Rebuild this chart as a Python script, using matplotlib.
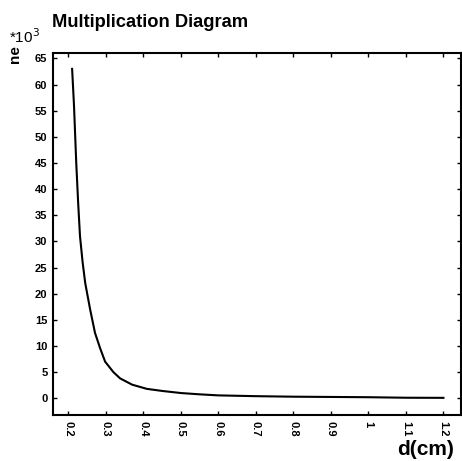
import matplotlib.pyplot as plt

plt.rcParams['font.family'] = ['Liberation Sans', 'DejaVu Sans']

# distance (cm) and multiplication ne (x10^3)
d_cm = [0.21, 0.215, 0.221, 0.226, 0.231, 0.238, 0.245, 0.258, 0.271, 0.285, 0.298, 0.32,
        0.338, 0.37, 0.409, 0.45, 0.5, 0.55, 0.6, 0.7, 0.8, 0.9, 1.0, 1.1, 1.2]
ne_k = [63, 56, 45, 37.5, 31, 26, 22, 17, 12.5, 9.5, 7, 5,
        3.8, 2.6, 1.8, 1.4, 1.0, 0.75, 0.55, 0.4, 0.3, 0.25, 0.2, 0.1, 0.08]

x_ticks = [0.2, 0.3, 0.4, 0.5, 0.6, 0.7, 0.8, 0.9, 1, 1.1, 1.2]
x_labels = ['0.2', '0.3', '0.4', '0.5', '0.6', '0.7', '0.8', '0.9', '1', '1.1', '1.2']
y_ticks = list(range(0, 70, 5))

fig = plt.figure(figsize=(4.62, 4.61), dpi=100)
ax = fig.add_axes([0.1147, 0.0998, 0.8833, 0.786])

ax.plot(d_cm, ne_k, color='black', linewidth=1.5)

ax.set_xlim(0.159, 1.247)
ax.set_ylim(-3.2, 66.1)
ax.set_xticks(x_ticks)
ax.set_xticklabels(x_labels, rotation=-90, fontsize=8, fontweight='bold')
ax.set_yticks(y_ticks)
ax.set_yticklabels([str(v) for v in y_ticks], fontsize=8, fontweight='bold')
ax.tick_params(direction='in', length=3, width=1, top=True, right=True, pad=4)
for s in ax.spines.values():
    s.set_linewidth(1.5)

fig.text(0.113, 0.942, 'Multiplication Diagram', fontsize=13.2, fontweight='bold',
         ha='left', va='baseline')
fig.text(0.02, 0.907, '*10$^3$', fontsize=11, ha='left', va='baseline')
fig.text(0.033, 0.882, 'ne', fontsize=11, fontweight='bold', rotation=90,
         ha='center', va='center')
fig.text(0.982, 0.014, 'd(cm)', fontsize=15, fontweight='bold',
         ha='right', va='baseline')

plt.savefig('out.png', dpi=100)
